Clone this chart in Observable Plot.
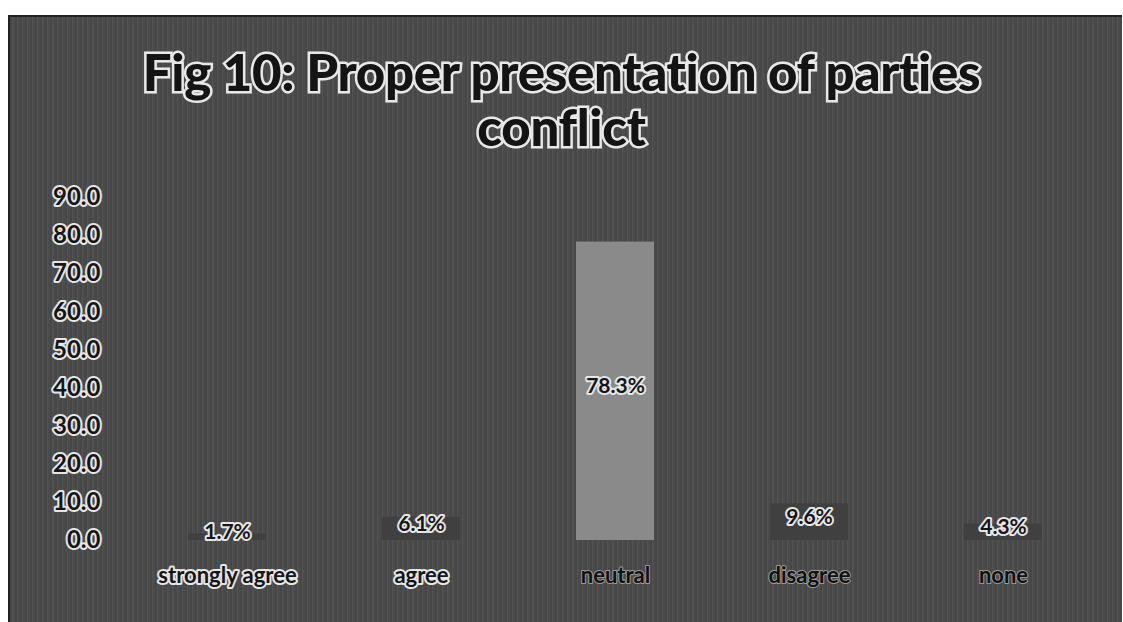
<!DOCTYPE html>
<html>
<head>
<meta charset="utf-8">
<script src="https://cdn.jsdelivr.net/npm/d3@7"></script>
<script src="https://cdn.jsdelivr.net/npm/@observablehq/plot@0.6"></script>
<style>
  html, body { margin: 0; padding: 0; background: #fff; }
  #page { position: relative; width: 1123px; height: 622px; overflow: hidden; background: #fff; }
  #panel {
    position: absolute; left: 8px; top: 15px; width: 1112px; height: 607px;
    border-top: 2px solid #222; border-left: 2px solid #222;
    background: repeating-linear-gradient(90deg, #474747 0px, #474747 2px, #535353 2px, #535353 3px, #4b4b4b 3px, #4b4b4b 5px);
  }
  #title {
    position: absolute; left: 0; top: 44px; width: 1123px; text-align: center;
    font-family: Lato, "Open Sans", sans-serif; font-weight: 900; font-size: 51px; line-height: 55px;
    color: #141414; -webkit-text-stroke: 5px #e8e8e8; paint-order: stroke fill; letter-spacing: -0.3px;
  }
  #chart { position: absolute; left: 0; top: 170px; }
</style>
</head>
<body>
<div id="page">
  <div id="panel"></div>
  <div id="title">Fig 10: Proper presentation of parties<br>conflict</div>
  <div id="chart"></div>
</div>
<script>
const categories = ["strongly agree", "agree", "neutral", "disagree", "none"];
const values = [1.7, 6.1, 78.3, 9.6, 4.3];
const valueLabels = ["1.7%", "6.1%", "78.3%", "9.6%", "4.3%"];
const yTicks = [0, 10, 20, 30, 40, 50, 60, 70, 80, 90];
const lightLabels = ["strongly agree", "agree"];
const darkLabels = ["neutral", "disagree", "none"];

const data = categories.map((c, i) => ({category: c, value: values[i], label: valueLabels[i]}));

const chart = Plot.plot({
  width: 1123,
  height: 452,
  marginTop: 27,
  marginBottom: 82,
  marginLeft: 128,
  marginRight: 22,
  style: {background: "transparent", fontFamily: "Lato, 'Open Sans', sans-serif", overflow: "visible"},
  x: {domain: categories, paddingInner: 0.6, paddingOuter: 0.3, axis: null},
  y: {domain: [0, 90], axis: null},
  marks: [
    Plot.barY(data, {x: "category", y: "value", fill: d => d.category === "neutral" ? "#8a8a8a" : "#404040"}),
    Plot.axisY(yTicks, {
      label: null,
      tickSize: 0, tickPadding: 28, fontSize: 24, fontWeight: 700,
      tickFormat: d => d.toFixed(1),
      fill: "#161616", textStroke: "#e6e6e6", textStrokeWidth: 4, textStrokeOpacity: 1
    }),
    Plot.text(data, {
      x: "category", y: d => d.value / 2, text: "label", dy: -5,
      fontSize: 21, fontWeight: 700,
      fill: "#161616", stroke: "#e6e6e6", strokeWidth: 4, paintOrder: "stroke"
    }),
    Plot.axisX(lightLabels, {
      label: null,
      tickSize: 0, tickPadding: 27, fontSize: 22, fontWeight: 700,
      fill: "#161616", textStroke: "#e6e6e6", textStrokeWidth: 4, textStrokeOpacity: 1
    }),
    Plot.axisX(darkLabels, {
      label: null,
      tickSize: 0, tickPadding: 27, fontSize: 22, fontWeight: 700,
      fill: "#111", textStroke: "#9a9a9a", textStrokeWidth: 2, textStrokeOpacity: 1
    })
  ]
});
document.getElementById("chart").appendChild(chart);
</script>
</body>
</html>
